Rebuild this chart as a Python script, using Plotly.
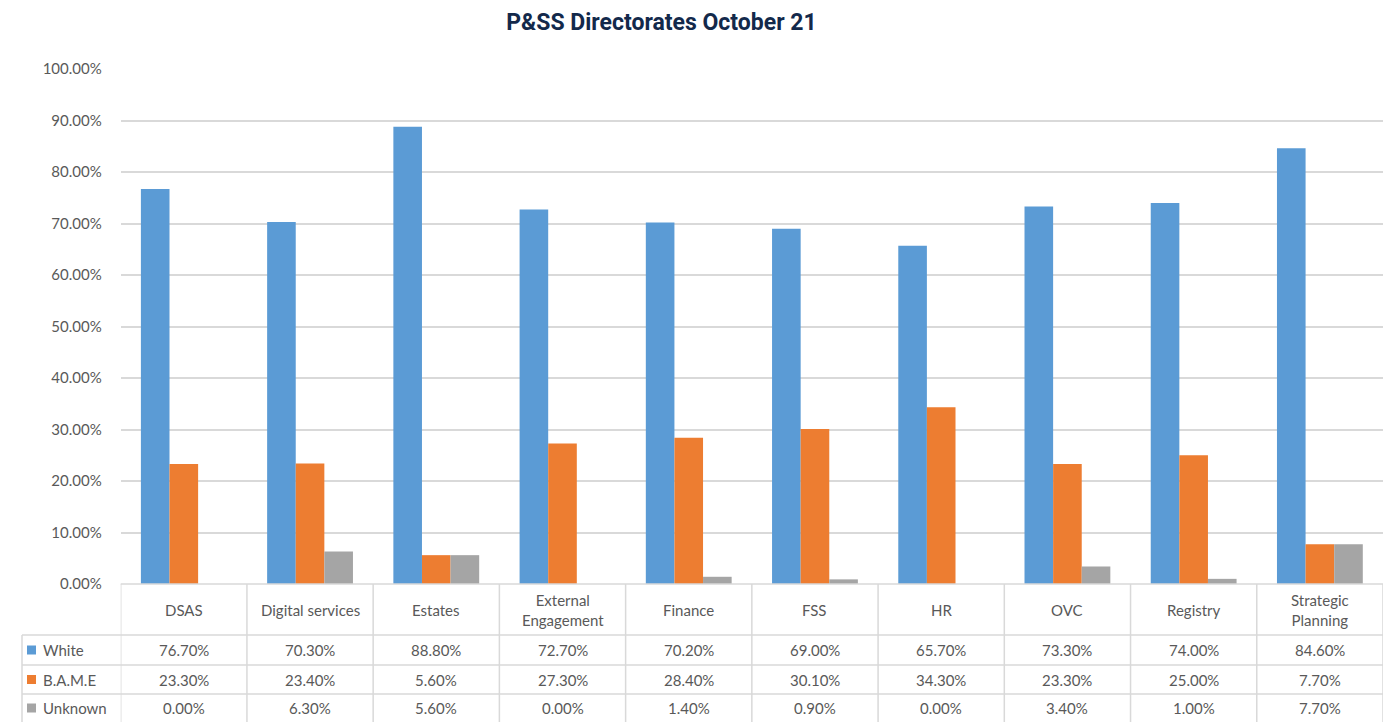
import plotly.graph_objects as go

categories = ["DSAS", "Digital services", "Estates", "External Engagement", "Finance",
              "FSS", "HR", "OVC", "Registry", "Strategic Planning"]
header_labels = ["DSAS", "Digital services", "Estates", "External<br>Engagement", "Finance",
                 "FSS", "HR", "OVC", "Registry", "Strategic<br>Planning"]
series_names = ["White", "B.A.M.E", "Unknown"]
white = [76.7, 70.3, 88.8, 72.7, 70.2, 69.0, 65.7, 73.3, 74.0, 84.6]
bame = [23.3, 23.4, 5.6, 27.3, 28.4, 30.1, 34.3, 23.3, 25.0, 7.7]
unknown = [0.0, 6.3, 5.6, 0.0, 1.4, 0.9, 0.0, 3.4, 1.0, 7.7]
colors = ["#5B9BD5", "#ED7D31", "#A5A5A5"]

# page body has an 8px default margin; work in screen pixels and compensate
OFF = 8
W, H = 1400 - OFF, 722 - OFF
def py(p):
    return (H - (p - OFF)) / H
def px(p):
    return (p - OFF) / W

FONT = "Lato, Calibri, Carlito, sans-serif"
TXT = "#595959"
GRID = "#D9D9D9"

fig = go.Figure()
all_series = [white, bame, unknown]
for name, vals, c in zip(series_names, all_series, colors):
    fig.add_trace(go.Bar(x=categories, y=[v / 100 for v in vals], name=name,
                         marker=dict(color=c, line=dict(width=0)), showlegend=False))

x0p, x1p = 120.7, 1383
y0p, y1p = 584, 69
fig.update_layout(
    width=W, height=H,
    margin=dict(l=0, r=0, t=0, b=0, autoexpand=False),
    paper_bgcolor="white", plot_bgcolor="white",
    barmode="group", bargap=0.32, bargroupgap=0,
    font=dict(family=FONT, color=TXT, size=15),
    title=dict(text="<b>P&SS Directorates October 21</b>", x=px(661.5), xanchor="center",
               xref="paper", y=py(22), yanchor="middle", yref="paper", automargin=False,
               font=dict(family="Roboto, sans-serif", size=23, color="#13294B")),
    xaxis=dict(domain=[px(x0p), px(x1p)], showticklabels=False, showgrid=False,
               zeroline=False, showline=False, ticks="", range=[-0.5, 9.5], automargin=False),
    yaxis=dict(domain=[py(y0p), py(y1p)], range=[0, 1.0], dtick=0.1, tickformat=".2%",
               showgrid=True, gridcolor=GRID, gridwidth=1.5, zeroline=False,
               showline=False, ticks="", ticklabelstandoff=18, automargin=False,
               tickfont=dict(family=FONT, size=15, color=TXT)),
)

shapes = []
line = dict(color=GRID, width=1.5)
# horizontal table lines
shapes.append(dict(type="line", xref="paper", yref="paper", x0=px(x0p), x1=px(x1p),
                   y0=py(584), y1=py(584), line=line))
for yy in [635, 665, 694]:
    shapes.append(dict(type="line", xref="paper", yref="paper", x0=px(22), x1=px(x1p),
                       y0=py(yy), y1=py(yy), line=line))
# vertical table lines
for i in range(len(categories) + 1):
    shapes.append(dict(type="line", xref="x", yref="paper", x0=i - 0.5, x1=i - 0.5,
                       y0=py(584), y1=py(722), line=line))
shapes.append(dict(type="line", xref="paper", yref="paper", x0=px(22), x1=px(22),
                   y0=py(635), y1=py(722), line=line))

row_centers = [650, 679.5, 708]
annotations = []
for i, lab in enumerate(header_labels):
    annotations.append(dict(x=categories[i], xref="x", y=py(609.5), yref="paper",
                            text=lab, showarrow=False, xanchor="center", yanchor="middle",
                            font=dict(family=FONT, size=15, color=TXT)))
for r, (name, vals, c) in enumerate(zip(series_names, all_series, colors)):
    yc = row_centers[r]
    shapes.append(dict(type="rect", xref="paper", yref="paper", x0=px(27), x1=px(36),
                       y0=py(yc + 4.5), y1=py(yc - 4.5), fillcolor=c, line=dict(width=0)))
    annotations.append(dict(x=px(41), xref="paper", y=py(yc), yref="paper", text=name,
                            showarrow=False, xanchor="left", yanchor="middle",
                            font=dict(family=FONT, size=15, color=TXT)))
    for i, v in enumerate(vals):
        annotations.append(dict(x=categories[i], xref="x", y=py(yc), yref="paper",
                                text=f"{v:.2f}%", showarrow=False, xanchor="center",
                                yanchor="middle", font=dict(family=FONT, size=15, color=TXT)))

fig.update_layout(shapes=shapes, annotations=annotations)
fig.write_html("out.html")
